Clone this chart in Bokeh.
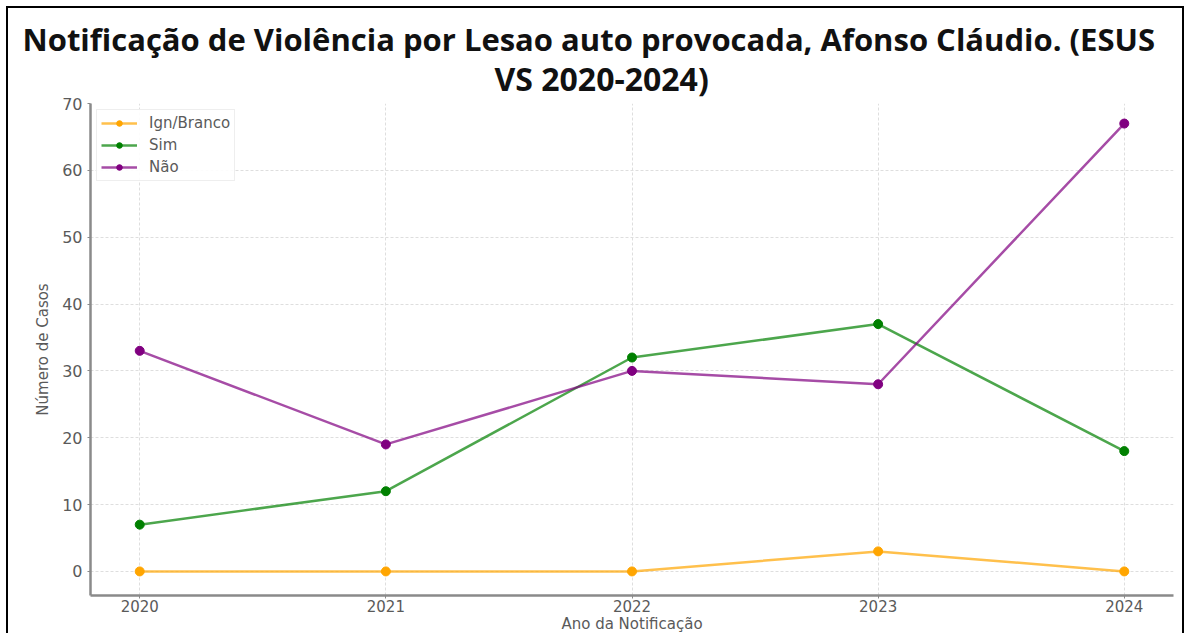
from bokeh.plotting import figure
from bokeh.models import Title, Legend, LegendItem, FixedTicker, Range1d
from bokeh.embed import file_html
from bokeh.resources import INLINE

years = [2020, 2021, 2022, 2023, 2024]
ign_branco = [0, 0, 0, 3, 0]
sim = [7, 12, 32, 37, 18]
nao = [33, 19, 30, 28, 67]
series_names = ["Ign/Branco", "Sim", "Não"]
line_colors = ["#FFA500", "#008000", "#800080"]
y_ticks = [0, 10, 20, 30, 40, 50, 60, 70]
title_line1 = "Notificação de Violência por Lesao auto provocada, Afonso Cláudio. (ESUS"
title_line2 = "VS 2020-2024)"

p = figure(width=1178, height=627, output_backend="svg", toolbar_location=None,
           x_range=Range1d(2019.8, 2024.2), y_range=Range1d(-3.6, 70),
           min_border_left=82, min_border_right=13, min_border_top=95, min_border_bottom=39,
           styles={"border-top": "2px solid black", "border-left": "2px solid black",
                   "border-right": "2px solid black", "margin-top": "6px",
                   "margin-left": "6px"})
p.outline_line_color = None
p.background_fill_color = "white"

p.add_layout(Title(text=title_line2, align="left", offset=404, text_font="Open Sans",
                   text_font_size="32px", text_font_style="bold", text_color="#111111",
                   standoff=8), "above")
p.add_layout(Title(text=title_line1, align="left", offset=-68, text_font="Open Sans",
                   text_font_size="31px", text_font_style="bold", text_color="#111111",
                   standoff=-19), "above")

for ax in (p.xaxis[0], p.yaxis[0]):
    ax.axis_line_color = "#8a8a8a"
    ax.axis_line_width = 2.5
    ax.major_tick_line_color = "#8a8a8a"
    ax.major_tick_out = 3
    ax.major_tick_in = 0
    ax.minor_tick_line_color = None
    ax.major_label_text_font = "DejaVu Sans"
    ax.major_label_text_font_size = "15px"
    ax.major_label_text_color = "#5a5a5a"
    ax.axis_label_text_font = "DejaVu Sans"
    ax.axis_label_text_font_size = "15px"
    ax.axis_label_text_font_style = "normal"
    ax.axis_label_text_color = "#5a5a5a"

p.yaxis.major_label_text_font_size = "16px"
p.xaxis.ticker = FixedTicker(ticks=years)
p.yaxis.ticker = FixedTicker(ticks=y_ticks)
p.xaxis.axis_label = "Ano da Notificação"
p.yaxis.axis_label = "Número de Casos"
p.xaxis.major_label_standoff = 1
p.xaxis.axis_label_standoff = 0
p.yaxis.major_label_standoff = 5
p.yaxis.axis_label_standoff = 7

p.grid.grid_line_color = "#dedede"
p.grid.grid_line_dash = "3 2"
p.grid.grid_line_width = 1

items = []
for name, vals, col in zip(series_names, [ign_branco, sim, nao], line_colors):
    l = p.line(years, vals, line_color=col, line_width=2.5, line_alpha=0.7)
    s = p.scatter(years, vals, size=9, fill_color=col, line_color=col)
    items.append(LegendItem(label=name, renderers=[l, s]))

legend = Legend(items=items, location="top_left")
legend.label_text_font = "DejaVu Sans"
legend.label_text_font_size = "15px"
legend.label_text_color = "#5a5a5a"
legend.border_line_color = "#dddddd"
legend.border_line_width = 1
legend.background_fill_alpha = 0.9
legend.glyph_width = 36
legend.glyph_height = 14
legend.label_height = 14
legend.label_standoff = 12
legend.spacing = 4
legend.padding = 4
legend.margin = 6
p.add_layout(legend)

open("out.html", "w").write(file_html(p, INLINE))
